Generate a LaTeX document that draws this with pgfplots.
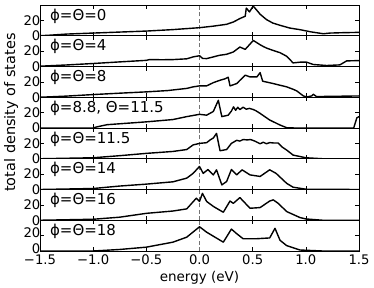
\documentclass[border=0pt]{standalone}
\usepackage{fontspec}
\setmainfont{DejaVu Sans}
\usepackage{pgfplots}
\pgfplotsset{compat=1.18}
\pgfplotsset{panel/.style={
  width=319pt, height=30.75pt, scale only axis,
  xmin=-1.5, xmax=1.5, ymin=0, ymax=40,
  ytick={0,20}, xtick={-1.5,-1,-0.5,0,0.5,1,1.5}, xticklabels={},
  tick align=inside, major tick length=4pt,
  axis line style={line width=0.8pt},
  tick style={black, line width=0.6pt},
  ticklabel style={font=\fontsize{13.2}{14}\selectfont},
  yticklabel style={xshift=1.5pt, inner sep=1pt},
  xticklabel style={yshift=-2.5pt, inner sep=1pt},
  /pgf/number format/assume math mode=true,
  anchor=north west},
  curve/.style={black, line width=1.4pt, line join=round},
  zero/.style={black!55, dash pattern=on 4pt off 2.5pt, line width=1.2pt},
}
\newcommand{\lab}[1]{\node[anchor=west, font=\fontsize{15}{16}\selectfont, inner sep=0pt] at (rel axis cs:0.031,0.64) {#1};}
\begin{document}
\begin{tikzpicture}
\useasboundingbox (-40pt,5pt) rectangle (334pt,-282pt);
% panel 1
\begin{axis}[panel, at={(0pt,0pt)}]
\addplot[zero] coordinates {(0,0) (0,40)};
\addplot[curve] coordinates {(-1.5,0) (-1.4,0.8) (-1.25,2.2) (-1.0,3.5) (-0.75,4.8) (-0.5,6.1) (-0.25,8) (0.0,10.5) (0.13,12.5) (0.255,14.9) (0.32,18) (0.38,22.4) (0.43,25.4) (0.44,36) (0.47,31) (0.505,38.6) (0.54,33) (0.57,28) (0.63,21) (0.69,16.5) (0.757,13.6) (0.85,10) (0.945,7.9) (1.05,5) (1.165,2.6) (1.227,3.5) (1.35,4) (1.5,4.4)};
\lab{ϕ=Θ=0}
\end{axis}
% panel 2
\begin{axis}[panel, at={(0pt,-30.75pt)}]
\addplot[zero] coordinates {(0,0) (0,40)};
\addplot[curve] coordinates {(-1.5,0.4) (-1.25,2) (-1.0,3.9) (-0.75,6) (-0.5,8) (-0.47,9) (-0.35,8.8) (-0.25,9) (-0.12,10) (-0.06,12.5) (0,14) (0.03,10.5) (0.067,10.3) (0.19,14.6) (0.255,15.9) (0.318,18.9) (0.38,25.3) (0.43,22.3) (0.506,33.9) (0.57,28.3) (0.6,26) (0.63,24) (0.69,21) (0.757,18) (0.82,13.3) (0.88,4.7) (0.945,5.6) (1.008,5.6) (1.07,2.6) (1.196,1.3) (1.32,2.1) (1.384,7.3) (1.5,7.7)};
\lab{ϕ=Θ=4}
\end{axis}
% panel 3
\begin{axis}[panel, at={(0pt,-61.5pt)}]
\addplot[zero] coordinates {(0,0) (0,40)};
\addplot[curve] coordinates {(-1.5,0) (-1.25,1.5) (-1.0,3.5) (-0.75,5.3) (-0.5,7) (-0.3,8.7) (-0.12,11.5) (-0.06,13.5) (0,14.8) (0.067,14.8) (0.13,19) (0.19,22) (0.24,24) (0.27,26) (0.287,14.8) (0.35,17.8) (0.38,22) (0.43,28.7) (0.475,26.5) (0.54,26.5) (0.57,32) (0.594,20.9) (0.694,17.8) (0.82,13.5) (0.88,10.4) (0.914,8.3) (0.977,1.7) (1.008,0.4) (1.055,1.7) (1.07,3.9) (1.1,0.9) (1.3,1.3) (1.5,1.7)};
\lab{ϕ=Θ=8}
\end{axis}
% panel 4
\begin{axis}[panel, at={(0pt,-92.25pt)}]
\addplot[zero] coordinates {(0,0) (0,40)};
\addplot[curve] coordinates {(-1.5,0) (-1.0,0) (-0.97,1.3) (-0.87,4.3) (-0.75,5.5) (-0.5,8) (-0.25,11) (-0.12,14.8) (0,17.8) (0.067,16.7) (0.13,21.5) (0.177,36) (0.21,14.8) (0.27,16.7) (0.3,22) (0.32,27.5) (0.34,23) (0.36,27) (0.38,24) (0.41,27) (0.44,24.5) (0.47,25.5) (0.506,24) (0.53,22.5) (0.57,19) (0.66,10.4) (0.757,3.9) (0.82,0.4) (0.9,0) (1.45,0) (1.48,13.3) (1.5,14.8)};
\lab{ϕ=8.8, Θ=11.5}
\end{axis}
% panel 5
\begin{axis}[panel, at={(0pt,-123pt)}]
\addplot[zero] coordinates {(0,0) (0,40)};
\addplot[curve] coordinates {(-1.5,0) (-1.0,1.3) (-0.75,4) (-0.5,7) (-0.25,9.5) (-0.12,12) (-0.06,18) (0.0,20) (0.067,20.9) (0.1,24.5) (0.13,27) (0.16,33) (0.193,10.4) (0.255,12) (0.3,20) (0.35,24) (0.38,23) (0.41,25) (0.45,24.5) (0.48,25) (0.52,23) (0.57,19.5) (0.6,21.5) (0.63,19.5) (0.66,21) (0.7,20.5) (0.74,20.5) (0.78,15) (0.82,11.3) (0.88,4.8) (1.0,1.3) (1.16,0) (1.5,0)};
\lab{ϕ=Θ=11.5}
\end{axis}
% panel 6
\begin{axis}[panel, at={(0pt,-153.75pt)}]
\addplot[zero] coordinates {(0,0) (0,40)};
\addplot[curve] coordinates {(-1.5,0) (-1.0,1.3) (-0.75,4.5) (-0.5,7) (-0.25,10) (-0.12,14.8) (-0.06,21) (0.0,30) (0.035,21) (0.08,26) (0.13,19) (0.16,25.6) (0.21,6) (0.255,10.4) (0.3,26) (0.35,19) (0.4,25.6) (0.475,19) (0.57,17) (0.66,25.6) (0.72,21) (0.82,8) (0.88,3) (1.0,0.4) (1.5,0)};
\lab{ϕ=Θ=14}
\end{axis}
% panel 7
\begin{axis}[panel, at={(0pt,-184.5pt)}]
\addplot[zero] coordinates {(0,0) (0,40)};
\addplot[curve] coordinates {(-1.5,0) (-1.0,1.3) (-0.75,4) (-0.5,9) (-0.25,12) (-0.12,14.8) (-0.03,28.7) (0.0,24.5) (0.028,35) (0.067,24.5) (0.13,18) (0.224,10.4) (0.287,25) (0.318,22) (0.38,29.5) (0.475,15.6) (0.57,16.5) (0.66,25) (0.694,26.5) (0.74,22) (0.82,11.3) (0.945,3.5) (1.0,1.7) (1.16,0) (1.5,0)};
\lab{ϕ=Θ=16}
\end{axis}
% panel 8
\begin{axis}[panel, at={(0pt,-215.25pt)}, xticklabels={−1.5,−1.0,−0.5,0.0,0.5,1.0,1.5}, yticklabel style={yshift=2.5pt}]
\addplot[zero] coordinates {(0,0) (0,40)};
\addplot[curve] coordinates {(-1.5,0) (-1.0,0) (-0.75,2) (-0.5,5) (-0.25,11.5) (-0.12,18) (0.0,31.5) (0.067,24.5) (0.224,11.5) (0.3,28.5) (0.35,22.5) (0.41,16) (0.54,16) (0.66,17) (0.71,29.5) (0.757,14) (0.82,7) (0.945,1.3) (1.16,0) (1.5,0)};
\lab{ϕ=Θ=18}
\end{axis}
\node[rotate=90, font=\fontsize{14.5}{15}\selectfont] at (-29pt,-107.5pt) {total density of states};
\node[font=\fontsize{13.5}{14}\selectfont] at (159.5pt,-273pt) {energy (eV)};
\end{tikzpicture}
\end{document}
